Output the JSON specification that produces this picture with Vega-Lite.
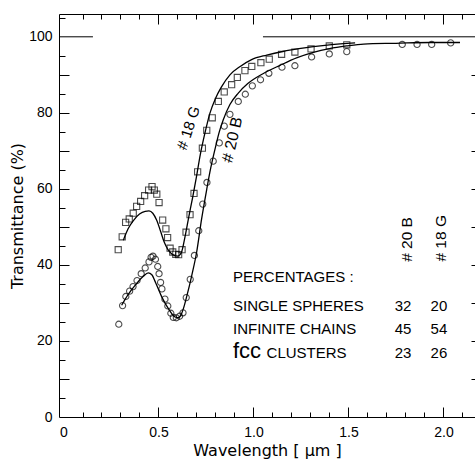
{
  "$schema": "https://vega.github.io/schema/vega-lite/v6.json",
  "width": 416,
  "height": 403,
  "padding": {"left": 59, "top": 14, "right": 0, "bottom": 42},
  "autosize": {"type": "none"},
  "background": "white",
  "config": {
    "view": {"stroke": null},
    "axis": {"grid": false, "domain": false, "labels": false, "ticks": false, "tickColor": "black", "domainColor": "black", "labelColor": "black", "titleColor": "black", "labelFont": "Liberation Sans", "labelFontSize": 14, "titleFont": "DejaVu Sans", "titleFontSize": 16, "titleFontWeight": "normal", "tickWidth": 1, "domainWidth": 1, "labelFlush": false, "labelOverlap": false}
  },
  "resolve": {"axis": {"x": "independent", "y": "independent"}},
  "datasets": {
    "sq18": [
      {"wl": 0.288, "T": 44.0}, {"wl": 0.309, "T": 47.4}, {"wl": 0.327, "T": 51.2}, {"wl": 0.346, "T": 52.1},
      {"wl": 0.367, "T": 53.6}, {"wl": 0.385, "T": 55.4}, {"wl": 0.406, "T": 56.7}, {"wl": 0.427, "T": 58.2},
      {"wl": 0.448, "T": 59.7}, {"wl": 0.466, "T": 60.6}, {"wl": 0.478, "T": 59.7}, {"wl": 0.491, "T": 58.6},
      {"wl": 0.503, "T": 56.4}, {"wl": 0.522, "T": 51.8}, {"wl": 0.539, "T": 49.5}, {"wl": 0.548, "T": 47.2},
      {"wl": 0.561, "T": 44.4}, {"wl": 0.575, "T": 43.4}, {"wl": 0.591, "T": 42.8}, {"wl": 0.606, "T": 42.7},
      {"wl": 0.624, "T": 44.0}, {"wl": 0.645, "T": 48.6}, {"wl": 0.666, "T": 53.2}, {"wl": 0.687, "T": 58.8},
      {"wl": 0.706, "T": 64.5}, {"wl": 0.731, "T": 70.7}, {"wl": 0.754, "T": 75.4}, {"wl": 0.783, "T": 78.7},
      {"wl": 0.815, "T": 83.0}, {"wl": 0.846, "T": 85.5}, {"wl": 0.885, "T": 87.4}, {"wl": 0.915, "T": 89.3},
      {"wl": 0.955, "T": 91.1}, {"wl": 0.991, "T": 92.2}, {"wl": 1.039, "T": 93.2}, {"wl": 1.083, "T": 94.1},
      {"wl": 1.148, "T": 95.4}, {"wl": 1.218, "T": 96.0}, {"wl": 1.303, "T": 96.8}, {"wl": 1.399, "T": 97.6},
      {"wl": 1.491, "T": 97.9}
    ],
    "ci20": [
      {"wl": 0.291, "T": 24.4}, {"wl": 0.311, "T": 29.3}, {"wl": 0.328, "T": 31.7}, {"wl": 0.348, "T": 33.1},
      {"wl": 0.366, "T": 34.3}, {"wl": 0.387, "T": 35.9}, {"wl": 0.409, "T": 37.7}, {"wl": 0.430, "T": 39.2},
      {"wl": 0.450, "T": 40.8}, {"wl": 0.461, "T": 42.0}, {"wl": 0.471, "T": 42.3}, {"wl": 0.484, "T": 41.5},
      {"wl": 0.496, "T": 39.6}, {"wl": 0.503, "T": 37.7}, {"wl": 0.511, "T": 35.4}, {"wl": 0.518, "T": 33.7},
      {"wl": 0.534, "T": 31.0}, {"wl": 0.549, "T": 29.2}, {"wl": 0.565, "T": 27.3}, {"wl": 0.578, "T": 26.2},
      {"wl": 0.594, "T": 26.1}, {"wl": 0.611, "T": 26.5}, {"wl": 0.629, "T": 27.4}, {"wl": 0.646, "T": 31.4},
      {"wl": 0.667, "T": 36.2}, {"wl": 0.689, "T": 42.5}, {"wl": 0.712, "T": 49.0}, {"wl": 0.733, "T": 56.0},
      {"wl": 0.755, "T": 61.7}, {"wl": 0.788, "T": 67.3}, {"wl": 0.820, "T": 72.1}, {"wl": 0.846, "T": 76.5},
      {"wl": 0.876, "T": 79.6}, {"wl": 0.920, "T": 83.0}, {"wl": 0.957, "T": 84.9}, {"wl": 0.994, "T": 87.1},
      {"wl": 1.037, "T": 88.7}, {"wl": 1.081, "T": 90.4}, {"wl": 1.150, "T": 92.0}, {"wl": 1.218, "T": 92.4},
      {"wl": 1.306, "T": 94.7}, {"wl": 1.399, "T": 95.5}, {"wl": 1.491, "T": 96.1}, {"wl": 1.783, "T": 98.0},
      {"wl": 1.861, "T": 98.0}, {"wl": 1.938, "T": 98.0}, {"wl": 2.038, "T": 98.4}
    ],
    "curves": [
      {"s": "18G", "wl": 0.315, "T": 46.5}, {"s": "18G", "wl": 0.34, "T": 49.5}, {"s": "18G", "wl": 0.37, "T": 51.8},
      {"s": "18G", "wl": 0.40, "T": 53.4}, {"s": "18G", "wl": 0.43, "T": 54.1}, {"s": "18G", "wl": 0.45, "T": 54.2},
      {"s": "18G", "wl": 0.47, "T": 53.6}, {"s": "18G", "wl": 0.49, "T": 51.8}, {"s": "18G", "wl": 0.51, "T": 49.0},
      {"s": "18G", "wl": 0.53, "T": 46.0}, {"s": "18G", "wl": 0.55, "T": 44.0}, {"s": "18G", "wl": 0.57, "T": 42.9},
      {"s": "18G", "wl": 0.60, "T": 42.3}, {"s": "18G", "wl": 0.62, "T": 43.2}, {"s": "18G", "wl": 0.64, "T": 47.5},
      {"s": "18G", "wl": 0.66, "T": 52.8}, {"s": "18G", "wl": 0.68, "T": 57.8}, {"s": "18G", "wl": 0.70, "T": 63.2},
      {"s": "18G", "wl": 0.72, "T": 69.0}, {"s": "18G", "wl": 0.745, "T": 74.8}, {"s": "18G", "wl": 0.77, "T": 79.8},
      {"s": "18G", "wl": 0.80, "T": 83.8}, {"s": "18G", "wl": 0.83, "T": 86.7}, {"s": "18G", "wl": 0.876, "T": 90.0},
      {"s": "18G", "wl": 0.93, "T": 92.2}, {"s": "18G", "wl": 0.99, "T": 94.0}, {"s": "18G", "wl": 1.07, "T": 95.2},
      {"s": "18G", "wl": 1.16, "T": 96.2}, {"s": "18G", "wl": 1.23, "T": 96.8}, {"s": "18G", "wl": 1.40, "T": 97.9},
      {"s": "18G", "wl": 1.535, "T": 98.4},
      {"s": "20B", "wl": 0.306, "T": 29.4}, {"s": "20B", "wl": 0.34, "T": 32.2}, {"s": "20B", "wl": 0.38, "T": 34.8},
      {"s": "20B", "wl": 0.42, "T": 37.0}, {"s": "20B", "wl": 0.446, "T": 37.9}, {"s": "20B", "wl": 0.465, "T": 37.4},
      {"s": "20B", "wl": 0.485, "T": 35.3}, {"s": "20B", "wl": 0.517, "T": 31.6}, {"s": "20B", "wl": 0.552, "T": 28.5},
      {"s": "20B", "wl": 0.587, "T": 26.3}, {"s": "20B", "wl": 0.604, "T": 26.1}, {"s": "20B", "wl": 0.62, "T": 27.0},
      {"s": "20B", "wl": 0.631, "T": 28.5}, {"s": "20B", "wl": 0.648, "T": 31.6}, {"s": "20B", "wl": 0.675, "T": 37.2},
      {"s": "20B", "wl": 0.701, "T": 43.4}, {"s": "20B", "wl": 0.727, "T": 52.1}, {"s": "20B", "wl": 0.754, "T": 59.9},
      {"s": "20B", "wl": 0.775, "T": 65.5}, {"s": "20B", "wl": 0.80, "T": 71.0}, {"s": "20B", "wl": 0.82, "T": 75.0},
      {"s": "20B", "wl": 0.841, "T": 78.2}, {"s": "20B", "wl": 0.876, "T": 82.2}, {"s": "20B", "wl": 0.92, "T": 85.2},
      {"s": "20B", "wl": 0.97, "T": 87.7}, {"s": "20B", "wl": 1.05, "T": 90.3}, {"s": "20B", "wl": 1.14, "T": 92.5},
      {"s": "20B", "wl": 1.23, "T": 94.5}, {"s": "20B", "wl": 1.315, "T": 95.9}, {"s": "20B", "wl": 1.40, "T": 96.9},
      {"s": "20B", "wl": 1.49, "T": 97.6}, {"s": "20B", "wl": 1.58, "T": 98.1}, {"s": "20B", "wl": 1.75, "T": 98.3},
      {"s": "20B", "wl": 1.93, "T": 98.5}, {"s": "20B", "wl": 2.087, "T": 98.5}
    ]
  },
  "layer": [
    {
      "data": {"values": [{"wl": -0.0237, "wl2": 0.155, "T": 100}, {"wl": 1.05, "wl2": 2.166, "T": 100}]},
      "mark": {"type": "rule", "color": "black", "strokeWidth": 1},
      "encoding": {
        "x": {"field": "wl", "type": "quantitative", "scale": {"domain": [-0.0237, 2.166], "nice": false, "zero": false},
              "axis": {"orient": "bottom", "labels": true, "domain": true, "ticks": false, "tickSize": 0, "values": [0, 0.5, 1, 1.5, 2], "labelExpr": "datum.value == 0 ? '0' : format(datum.value, '.1f')", "labelPadding": 8, "title": "Wavelength   [ μm ]", "titleY": 38, "titleBaseline": "alphabetic"}},
        "x2": {"field": "wl2"},
        "y": {"field": "T", "type": "quantitative", "scale": {"domain": [0, 106], "nice": false, "zero": false},
              "axis": {"orient": "left", "labels": true, "domain": true, "ticks": false, "tickSize": 0, "values": [0, 20, 40, 60, 80, 100], "labelPadding": 7, "title": "Transmittance  (%)", "titlePadding": 3}}
      }
    },
    {
      "data": {"name": "curves"},
      "mark": {"type": "line", "color": "black", "strokeWidth": 1.3, "interpolate": "monotone"},
      "encoding": {
        "x": {"field": "wl", "type": "quantitative", "scale": {"domain": [-0.0237, 2.166], "nice": false, "zero": false},
              "axis": {"orient": "bottom", "ticks": true, "tickSize": -5, "values": [0.1, 0.2, 0.3, 0.4, 0.6, 0.7, 0.8, 0.9, 1.1, 1.2, 1.3, 1.4, 1.6, 1.7, 1.8, 1.9, 2.1], "title": null}},
        "y": {"field": "T", "type": "quantitative", "scale": {"domain": [0, 106], "nice": false, "zero": false},
              "axis": {"orient": "left", "ticks": true, "tickSize": -6, "values": [5, 15, 25, 35, 45, 55, 65, 75, 85, 95, 105], "title": null}},
        "detail": {"field": "s"}
      }
    },
    {
      "data": {"name": "sq18"},
      "mark": {"type": "point", "shape": "square", "filled": false, "color": "black", "size": 38, "strokeWidth": 1.1},
      "encoding": {
        "x": {"field": "wl", "type": "quantitative", "scale": {"domain": [-0.0237, 2.166], "nice": false, "zero": false},
              "axis": {"orient": "bottom", "ticks": true, "tickSize": -10, "values": [0.5, 1, 1.5, 2], "title": null}},
        "y": {"field": "T", "type": "quantitative", "scale": {"domain": [0, 106], "nice": false, "zero": false},
              "axis": {"orient": "left", "ticks": true, "tickSize": -10, "values": [10, 20, 30, 40, 50, 60, 70, 80, 90], "title": null}}
      }
    },
    {
      "data": {"name": "ci20"},
      "mark": {"type": "point", "shape": "circle", "filled": false, "color": "black", "size": 38, "strokeWidth": 1.1},
      "encoding": {
        "x": {"field": "wl", "type": "quantitative", "scale": {"domain": [-0.0237, 2.166], "nice": false, "zero": false},
              "axis": {"orient": "top", "domain": true, "ticks": true, "tickSize": -5, "values": [0.1, 0.2, 0.3, 0.4, 0.6, 0.7, 0.8, 0.9, 1.1, 1.2, 1.3, 1.4, 1.6, 1.7, 1.8, 1.9, 2.1], "title": null}},
        "y": {"field": "T", "type": "quantitative", "scale": {"domain": [0, 106], "nice": false, "zero": false},
              "axis": {"orient": "right", "ticks": true, "tickSize": -4, "values": [10, 20, 30, 40, 50, 60, 70, 80, 90], "title": null}}
      }
    },
    {
      "data": {"values": [{"wl": 0.658, "T": 76.0, "t": "# 18 G"}]},
      "mark": {"type": "text", "font": "Liberation Sans", "fontSize": 15, "angle": -72, "align": "center", "baseline": "middle", "color": "black"},
      "encoding": {
        "x": {"field": "wl", "type": "quantitative", "scale": {"domain": [-0.0237, 2.166], "nice": false, "zero": false},
              "axis": {"orient": "top", "ticks": true, "tickSize": -10, "values": [0.5, 1, 1.5, 2], "title": null}},
        "y": {"field": "T", "type": "quantitative", "axis": null},
        "text": {"field": "t"}
      }
    },
    {
      "data": {"values": [{"wl": 0.889, "T": 72.9, "t": "#  20 B"}]},
      "mark": {"type": "text", "font": "Liberation Sans", "fontSize": 16, "angle": -77, "align": "center", "baseline": "middle", "color": "black"},
      "encoding": {
        "x": {"field": "wl", "type": "quantitative", "axis": null},
        "y": {"field": "T", "type": "quantitative", "axis": null},
        "text": {"field": "t"}
      }
    },
    {
      "data": {"values": [{"wl": 1.808, "T": 46.7, "t": "# 20 B"}, {"wl": 1.987, "T": 47.0, "t": "# 18 G"}]},
      "mark": {"type": "text", "font": "Liberation Sans", "fontSize": 15.5, "angle": -90, "align": "center", "baseline": "middle", "color": "black"},
      "encoding": {
        "x": {"field": "wl", "type": "quantitative", "axis": null},
        "y": {"field": "T", "type": "quantitative", "axis": null},
        "text": {"field": "t"}
      }
    },
    {
      "data": {"values": [{"wl": 0.892, "T": 36.9, "t": "PERCENTAGES :"}, {"wl": 0.892, "T": 29.2, "t": "SINGLE  SPHERES"}, {"wl": 0.892, "T": 23.1, "t": "INFINITE  CHAINS"}]},
      "mark": {"type": "text", "font": "Liberation Sans", "fontSize": 15, "align": "left", "baseline": "middle", "color": "black"},
      "encoding": {
        "x": {"field": "wl", "type": "quantitative", "axis": null},
        "y": {"field": "T", "type": "quantitative", "axis": null},
        "text": {"field": "t"}
      }
    },
    {
      "data": {"values": [{"wl": 0.892, "T": 15.6, "t": "fcc"}]},
      "mark": {"type": "text", "font": "Liberation Sans", "fontSize": 22, "align": "left", "baseline": "alphabetic", "color": "black"},
      "encoding": {
        "x": {"field": "wl", "type": "quantitative", "axis": null},
        "y": {"field": "T", "type": "quantitative", "axis": null},
        "text": {"field": "t"}
      }
    },
    {
      "data": {"values": [{"wl": 1.069, "T": 15.6, "t": "CLUSTERS"}]},
      "mark": {"type": "text", "font": "Liberation Sans", "fontSize": 15, "align": "left", "baseline": "alphabetic", "color": "black"},
      "encoding": {
        "x": {"field": "wl", "type": "quantitative", "axis": null},
        "y": {"field": "T", "type": "quantitative", "axis": null},
        "text": {"field": "t"}
      }
    },
    {
      "data": {"values": [
        {"wl": 1.787, "T": 29.2, "t": "32"}, {"wl": 1.976, "T": 29.2, "t": "20"},
        {"wl": 1.787, "T": 23.1, "t": "45"}, {"wl": 1.976, "T": 23.1, "t": "54"},
        {"wl": 1.787, "T": 16.9, "t": "23"}, {"wl": 1.976, "T": 16.9, "t": "26"}
      ]},
      "mark": {"type": "text", "font": "Liberation Sans", "fontSize": 15, "align": "center", "baseline": "middle", "color": "black"},
      "encoding": {
        "x": {"field": "wl", "type": "quantitative", "axis": null},
        "y": {"field": "T", "type": "quantitative", "axis": null},
        "text": {"field": "t"}
      }
    }
  ]
}
